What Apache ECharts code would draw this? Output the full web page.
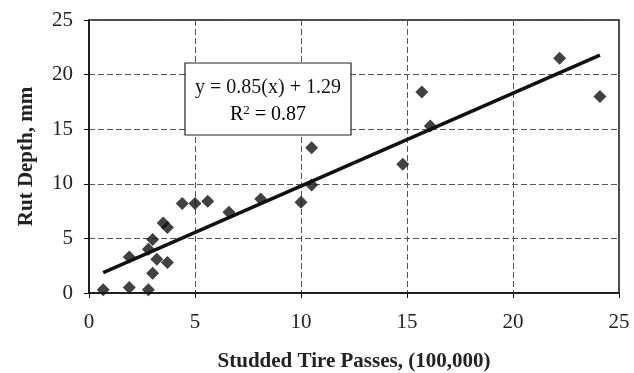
<!DOCTYPE html>
<html>
<head>
<meta charset="utf-8">
<script src="https://cdn.jsdelivr.net/npm/echarts@6/dist/echarts.min.js"></script>
<style>
html,body{margin:0;padding:0;background:#fff;}
#chart{width:634px;height:373px;}
</style>
</head>
<body>
<div id="chart"></div>
<script>
// Data
const passes = [0.67, 1.9, 2.8, 3.0, 3.2, 3.7, 1.9, 2.8, 3.0, 3.5, 3.7, 4.4, 5.0, 5.6, 6.6, 8.1, 10.5, 10.5, 10.0, 14.8, 16.1, 15.7, 22.2, 24.1];
const rutDepth = [0.3, 0.5, 0.3, 1.8, 3.1, 2.8, 3.3, 4.0, 4.9, 6.4, 6.0, 8.2, 8.2, 8.4, 7.4, 8.6, 13.3, 9.9, 8.3, 11.8, 15.3, 18.4, 21.5, 18.0];
const trendX = [0.67, 24.1];
const trendY = [1.86, 21.78];
const xTicks = [0, 5, 10, 15, 20, 25];
const yTicks = [0, 5, 10, 15, 20, 25];
const equationText = 'y = 0.85(x) + 1.29';
const r2Text = '0.87';

const chart = echarts.init(document.getElementById('chart'));
const serif = '"Liberation Serif", "Times New Roman", serif';
const points = passes.map((x, i) => [x, rutDepth[i]]);
const trend = trendX.map((x, i) => [x, trendY[i]]);

chart.setOption({
  animation: false,
  backgroundColor: '#fff',
  grid: {left: 89, right: 15, top: 20, bottom: 80, outerBoundsMode: 'none', containLabel: false, show: true, borderColor: '#111', borderWidth: 1.5, backgroundColor: 'transparent'},
  xAxis: {
    type: 'value', min: xTicks[0], max: xTicks[xTicks.length - 1], interval: 5,
    axisLine: {show: true, lineStyle: {color: '#111', width: 1.5}},
    axisTick: {show: true, length: 5, lineStyle: {color: '#111'}},
    axisLabel: {fontFamily: serif, fontSize: 21, color: '#222', margin: 19},
    splitLine: {show: true, lineStyle: {color: '#555', type: [6, 3], width: 1}},
    name: 'Studded Tire Passes, (100,000)', nameLocation: 'middle', nameGap: 58,
    nameTextStyle: {fontFamily: serif, fontSize: 21, fontWeight: 'bold', color: '#222'}
  },
  yAxis: {
    type: 'value', min: yTicks[0], max: yTicks[yTicks.length - 1], interval: 5,
    axisLine: {show: true, lineStyle: {color: '#111', width: 1.5}},
    axisTick: {show: true, length: 5, lineStyle: {color: '#111'}},
    axisLabel: {fontFamily: serif, fontSize: 21, color: '#222', margin: 16},
    splitLine: {show: true, lineStyle: {color: '#555', type: [6, 3], width: 1}},
    name: 'Rut Depth, mm', nameLocation: 'middle', nameGap: 52, nameRotate: 90,
    nameTextStyle: {fontFamily: serif, fontSize: 21, fontWeight: 'bold', color: '#222'}
  },
  series: [
    {type: 'line', data: trend, showSymbol: false, lineStyle: {color: '#111', width: 3.5}, z: 2},
    {type: 'scatter', data: points, symbol: 'diamond', symbolSize: 13, itemStyle: {color: '#111'}, z: 3}
  ],
  graphic: [
    {type: 'rect', shape: {x: 185, y: 63, width: 166, height: 72}, style: {fill: '#fff', stroke: '#222', lineWidth: 1.2}, z: 10},
    {type: 'text', x: 268, y: 88, style: {text: equationText, font: '20px ' + serif, fill: '#111', align: 'center', verticalAlign: 'middle'}, z: 11},
    {type: 'text', x: 268, y: 115, style: {
      text: '{n|R}{s|2}{n| = ' + r2Text + '}',
      align: 'center', verticalAlign: 'middle',
      rich: {
        n: {fontFamily: serif, fontSize: 20, color: '#111'},
        s: {fontFamily: serif, fontSize: 13, color: '#111', verticalAlign: 'top', padding: [0, 0, 9, 0]}
      }
    }, z: 11}
  ]
});
</script>
</body>
</html>
